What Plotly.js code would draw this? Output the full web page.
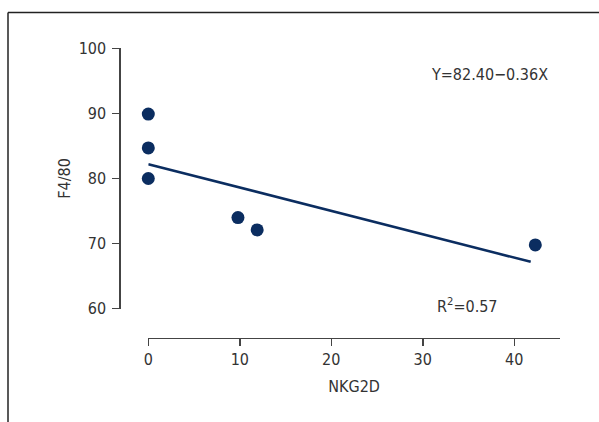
<!DOCTYPE html>
<html>
<head>
<meta charset="utf-8">
<script src="https://cdn.plot.ly/plotly-3.0.1.min.js"></script>
<style>html,body{margin:0;padding:0;background:#fff;}#chart{width:599px;height:422px;}</style>
</head>
<body>
<div id="chart"></div>
<script>
// Data
const nkg2d = [0, 0, 0, 9.8, 11.9, 42.3];
const f480 = [89.9, 84.7, 80.0, 74.0, 72.1, 69.8];
const fitX = [0, 41.8];
const fitY = [82.2, 67.2];
const xTicks = [0, 10, 20, 30, 40];
const yTicks = [60, 70, 80, 90, 100];
const eqText = 'Y=82.40\u22120.36X';
const r2Text = 'R<sup>2</sup>=0.57';

const W = 599, H = 422;
const px = v => v / W;
const py = v => 1 - v / H;
const FONT = '"DejaVu Sans Condensed", "Liberation Sans Narrow", "Roboto", sans-serif';
const NAVY = '#0b2d60';
const TXT = '#333333';
const FS = 16;

const traces = [
  {x: fitX, y: fitY, type: 'scatter', mode: 'lines',
   line: {color: NAVY, width: 2.6}, hoverinfo: 'skip', cliponaxis: false},
  {x: nkg2d, y: f480, type: 'scatter', mode: 'markers',
   marker: {color: NAVY, size: 13}, cliponaxis: false}
];

const layout = {
  width: W, height: H,
  margin: {l: 0, r: 0, t: 0, b: 0},
  paper_bgcolor: '#fff', plot_bgcolor: 'rgba(0,0,0,0)',
  showlegend: false,
  font: {family: FONT, size: FS, color: TXT},
  xaxis: {
    domain: [px(148.3), px(560)],
    range: [0, 45],
    anchor: 'free', position: py(337.7),
    tickvals: xTicks, ticktext: xTicks.map(String),
    ticks: 'outside', ticklen: 7, tickwidth: 1.5, tickcolor: '#444',
    showline: true, linecolor: '#444', linewidth: 1.5,
    showgrid: false, zeroline: false,
    tickfont: {family: FONT, size: FS, color: TXT},
    title: {text: 'NKG2D', font: {family: FONT, size: FS, color: TXT}, standoff: 12}
  },
  yaxis: {
    domain: [py(308.7), py(48.3)],
    range: [60, 100],
    anchor: 'free', position: px(119.3),
    tickvals: yTicks, ticktext: yTicks.map(String),
    ticks: 'outside', ticklen: 7, tickwidth: 1.5, tickcolor: '#444',
    ticklabelstandoff: 3,
    showline: true, linecolor: '#444', linewidth: 1.5,
    showgrid: false, zeroline: false,
    tickfont: {family: FONT, size: FS, color: TXT},
    title: {text: 'F4/80', font: {family: FONT, size: FS, color: TXT}, standoff: 2}
  },
  shapes: [
    {type: 'line', xref: 'paper', yref: 'paper', x0: px(8), x1: px(8), y0: py(12.5), y1: -0.05,
     line: {color: '#222', width: 1.5}},
    {type: 'line', xref: 'paper', yref: 'paper', x0: px(8), x1: 1.05, y0: py(12.5), y1: py(12.5),
     line: {color: '#222', width: 1.5}}
  ],
  annotations: [
    {xref: 'paper', yref: 'paper', x: px(489), y: py(74.5), text: eqText, showarrow: false,
     xanchor: 'center', yanchor: 'middle', font: {family: FONT, size: FS, color: TXT}},
    {xref: 'paper', yref: 'paper', x: px(467.5), y: py(305), text: r2Text, showarrow: false,
     xanchor: 'center', yanchor: 'middle', font: {family: FONT, size: FS, color: TXT}}
  ]
};

Plotly.newPlot('chart', traces, layout, {displayModeBar: false, staticPlot: true});
</script>
</body>
</html>
